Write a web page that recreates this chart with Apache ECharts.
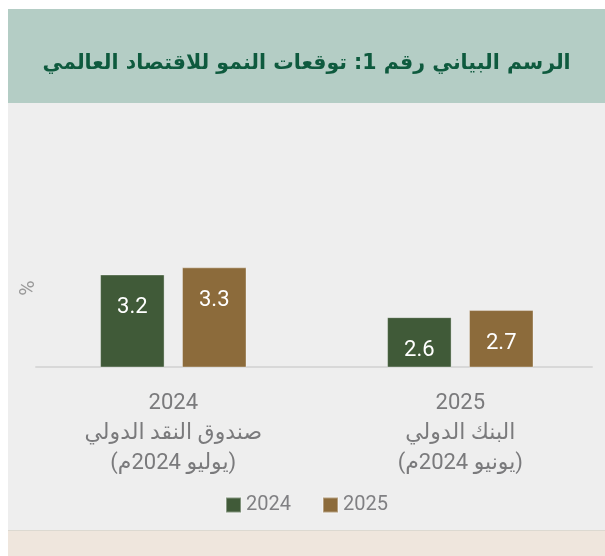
<!DOCTYPE html>
<html>
<head>
<meta charset="utf-8">
<script src="https://cdn.jsdelivr.net/npm/echarts@6/dist/echarts.min.js"></script>
<style>
  html, body { margin: 0; padding: 0; background: #ffffff; }
  body { width: 605px; height: 556px; position: relative; overflow: hidden; }
  #band { position: absolute; left: 8px; top: 9px; width: 597px; height: 94px; background: #b4cdc5; }
  #panel { position: absolute; left: 8px; top: 103px; width: 597px; height: 427px; background: #eeeeee; }
  #divider { position: absolute; left: 8px; top: 530px; width: 597px; height: 1px; background: #dcd9d1; }
  #foot { position: absolute; left: 8px; top: 531px; width: 597px; height: 25px; background: #efe6dd; }
  #chart { position: absolute; left: 8px; top: 0; width: 597px; height: 556px; }
</style>
</head>
<body>
<div id="band"></div>
<div id="panel"></div>
<div id="divider"></div>
<div id="foot"></div>
<div id="chart" dir="rtl"></div>
<script>
const titleText = 'الرسم البياني رقم 1: توقعات النمو للاقتصاد العالمي';
const categories = [
  '2024\nصندوق النقد الدولي\n(يوليو 2024م)',
  '2025\nالبنك الدولي\n(يونيو 2024م)'
];
const seriesNames = ['2024', '2025'];
const values2024 = [3.2, 2.6];
const values2025 = [3.3, 2.7];
const unitLabel = '%';

const GREEN = '#405a38';
const BROWN = '#8c6b3b';
const FONT = 'Roboto, "DejaVu Sans", sans-serif';

const chart = echarts.init(document.getElementById('chart'), null, { renderer: 'canvas' });

const barLabel = {
  show: true,
  position: 'insideTop',
  distance: 22,
  color: '#ffffff',
  fontSize: 22,
  fontFamily: FONT,
  formatter: p => p.value.toFixed(1)
};

chart.setOption({
  animation: false,
  title: {
    text: titleText,
    left: 'center',
    top: 51,
    padding: 0,
    textStyle: {
      color: '#0e5a3e',
      fontSize: 20.5,
      fontWeight: 'bold',
      lineHeight: 26,
      fontFamily: '"DejaVu Sans", sans-serif'
    }
  },
  legend: {
    data: seriesNames,
    left: 'center',
    top: 495,
    padding: 0,
    icon: 'rect',
    itemWidth: 15,
    itemHeight: 15,
    itemGap: 31,
    textStyle: { color: '#808083', fontSize: 20, fontFamily: FONT }
  },
  grid: [
    { left: 21.8, right: 1.2, top: 209, bottom: 189 },
    { left: 28, right: 13, top: 209, bottom: 189 }
  ],
  xAxis: [
    {
      type: 'category',
      gridIndex: 0,
      data: categories,
      axisLine: { show: false },
      axisTick: { show: false },
      axisLabel: {
        margin: 21,
        color: '#7a7a7c',
        fontSize: 22,
        lineHeight: 30,
        fontFamily: FONT
      }
    },
    {
      type: 'value',
      gridIndex: 1,
      axisLine: { show: true, onZero: false, lineStyle: { color: '#d8d8d8', width: 2 } },
      axisTick: { show: false },
      axisLabel: { show: false },
      splitLine: { show: false }
    }
  ],
  yAxis: [
    {
      type: 'value',
      gridIndex: 0,
      min: 1.9,
      max: 4.12,
      axisLine: { show: false },
      axisTick: { show: false },
      axisLabel: { show: false },
      splitLine: { show: false },
      name: unitLabel,
      nameLocation: 'middle',
      nameGap: -9,
      nameTextStyle: { color: '#9a9a9a', fontSize: 21, fontFamily: FONT }
    },
    {
      type: 'value',
      gridIndex: 1,
      show: false
    }
  ],
  series: [
    {
      name: seriesNames[0],
      type: 'bar',
      xAxisIndex: 0,
      yAxisIndex: 0,
      data: values2024,
      barWidth: 64.5,
      barGap: '27%',
      itemStyle: { color: GREEN, borderColor: 'rgba(255,255,255,0.35)', borderWidth: 1 },
      label: barLabel
    },
    {
      name: seriesNames[1],
      type: 'bar',
      xAxisIndex: 0,
      yAxisIndex: 0,
      data: values2025,
      barWidth: 64.5,
      barGap: '27%',
      itemStyle: { color: BROWN, borderColor: 'rgba(255,255,255,0.35)', borderWidth: 1 },
      label: barLabel
    }
  ]
});
</script>
</body>
</html>
